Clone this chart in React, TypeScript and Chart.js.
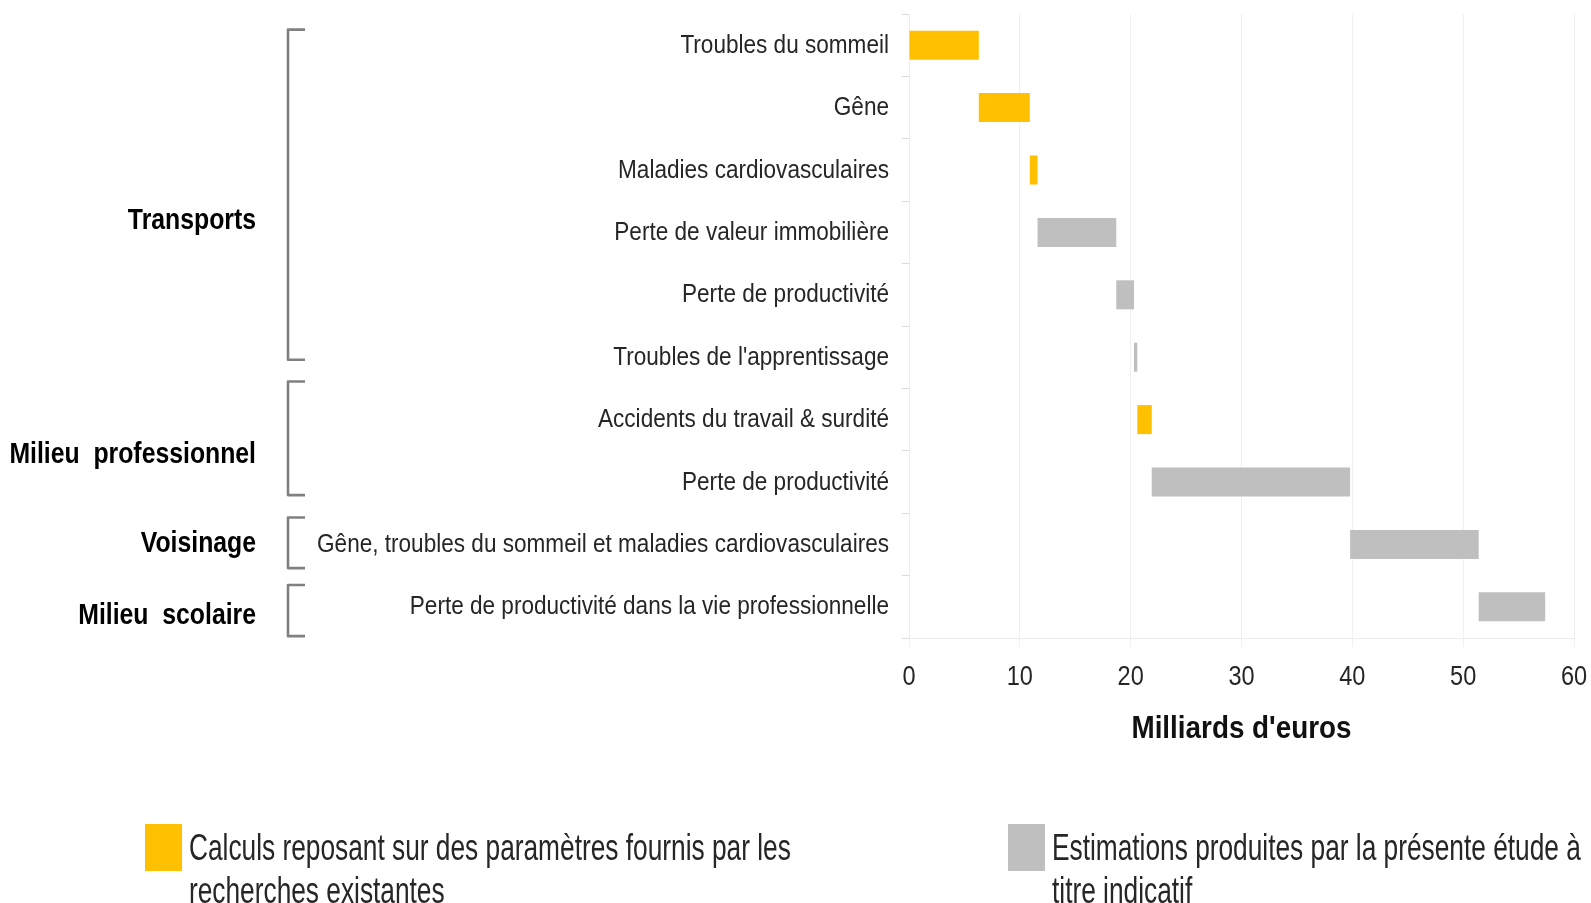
import React, { useEffect, useRef } from 'react';
import { Chart, registerables } from 'chart.js';

Chart.register(...registerables);

// ---- Data ----
const categories = [
  'Troubles du sommeil',
  'Gêne',
  'Maladies cardiovasculaires',
  'Perte de valeur immobilière',
  'Perte de productivité',
  "Troubles de l'apprentissage",
  'Accidents du travail & surdité',
  'Perte de productivité',
  'Gêne, troubles du sommeil et maladies cardiovasculaires',
  'Perte de productivité dans la vie professionnelle',
];
const barStart = [0, 6.3, 10.9, 11.6, 18.7, 20.3, 20.6, 21.9, 39.8, 51.4];
const barEnd = [6.3, 10.9, 11.6, 18.7, 20.3, 20.6, 21.9, 39.8, 51.4, 57.4];
const barSource = ['calc', 'calc', 'calc', 'est', 'est', 'est', 'calc', 'est', 'est', 'est'];

const xMin = 0;
const xMax = 60;
const xStep = 10;
const xTitle = "Milliards d'euros";

const groupNames = ['Transports', 'Milieu  professionnel', 'Voisinage', 'Milieu  scolaire'];
const groupFirst = [0, 6, 8, 9];
const groupLast = [5, 7, 8, 9];

const calcLabel = ['Calculs reposant sur des paramètres fournis par les', 'recherches existantes'];
const estLabel = ['Estimations produites par la présente étude à', 'titre indicatif'];

// ---- Style ----
const YELLOW = '#FFC000';
const GREY = '#BFBFBF';
const SANS = "'Liberation Sans', Arial, sans-serif";
const TEXT = '#262626';
const BRACKET_TOP_PAD = [0.25, 0.61, 0.43, 0.35];
const BRACKET_BOT_PAD = [0.04, 0.21, 0.38, 0.47];
const GROUP_LABEL_ROW = [2.77, 6.52, 7.96, 9.1];

const W = 1591;
const H = 903;

function squeezedText(
  ctx: CanvasRenderingContext2D,
  text: string,
  x: number,
  y: number,
  sx: number,
  align: CanvasTextAlign,
) {
  ctx.save();
  ctx.translate(x, y);
  ctx.scale(sx, 1);
  ctx.textAlign = align;
  ctx.textBaseline = 'alphabetic';
  ctx.fillText(text, 0, 0);
  ctx.restore();
}

const overlayPlugin = {
  id: 'overlay',
  afterDraw(chart: any) {
    const ctx: CanvasRenderingContext2D = chart.ctx;
    const y = chart.scales.y;
    const x = chart.scales.x;
    ctx.save();

    // category labels (y axis)
    ctx.fillStyle = TEXT;
    ctx.font = `25.5px ${SANS}`;
    chart.data.labels.forEach((lab: string, i: number) => {
      squeezedText(ctx, lab, 889, y.getPixelForValue(i) + 7.5, 0.885, 'right');
    });

    // x tick labels
    ctx.font = `28px ${SANS}`;
    x.ticks.forEach((t: any) => {
      squeezedText(ctx, String(t.value), x.getPixelForValue(t.value), 685, 0.84, 'center');
    });

    // x title
    ctx.fillStyle = '#111111';
    ctx.font = `bold 32px ${SANS}`;
    squeezedText(ctx, xTitle, (chart.chartArea.left + chart.chartArea.right) / 2, 738, 0.87, 'center');

    // brackets + group labels
    ctx.strokeStyle = '#808080';
    ctx.lineWidth = 2.6;
    ctx.lineJoin = 'round';
    groupNames.forEach((name, i) => {
      const top = y.getPixelForValue(groupFirst[i] - BRACKET_TOP_PAD[i]);
      const bot = y.getPixelForValue(groupLast[i] + BRACKET_BOT_PAD[i]);
      ctx.beginPath();
      ctx.moveTo(305, top);
      ctx.lineTo(288, top);
      ctx.lineTo(288, bot);
      ctx.lineTo(305, bot);
      ctx.stroke();
      ctx.font = `bold 29px ${SANS}`;
      ctx.fillStyle = '#000000';
      squeezedText(ctx, name, 256, y.getPixelForValue(GROUP_LABEL_ROW[i]) + 10.5, 0.855, 'right');
    });

    // legend
    const items = [
      { color: chart.data.datasets[0].backgroundColor, lines: calcLabel, x: 145, w: 37 },
      { color: chart.data.datasets[1].backgroundColor, lines: estLabel, x: 1008, w: 37 },
    ];
    items.forEach((it) => {
      ctx.fillStyle = it.color;
      ctx.fillRect(it.x, 824, it.w, 47);
      ctx.font = `36px ${SANS}`;
      ctx.fillStyle = TEXT;
      it.lines.forEach((ln: string, k: number) => {
        squeezedText(ctx, ln, it.x + it.w + 7, 860 + k * 43, 0.73, 'left');
      });
    });
    ctx.restore();
  },
};

export default function App() {
  const ref = useRef<HTMLCanvasElement>(null);

  useEffect(() => {
    if (!ref.current) return;
    const calcData = barStart.map((s, i) => (barSource[i] === 'calc' ? [s, barEnd[i]] : null));
    const estData = barStart.map((s, i) => (barSource[i] === 'est' ? [s, barEnd[i]] : null));
    const chart = new Chart(ref.current, {
      type: 'bar',
      data: {
        labels: categories,
        datasets: [
          {
            label: calcLabel.join(' '),
            data: calcData as any,
            backgroundColor: YELLOW,
            barPercentage: 0.465,
            categoryPercentage: 1,
            grouped: false,
          },
          {
            label: estLabel.join(' '),
            data: estData as any,
            backgroundColor: GREY,
            barPercentage: 0.465,
            categoryPercentage: 1,
            grouped: false,
          },
        ],
      },
      options: {
        indexAxis: 'y',
        animation: false,
        responsive: false,
        maintainAspectRatio: false,
        layout: { padding: { left: 0, top: 14, right: 17, bottom: 0 } },
        plugins: {
          legend: { display: false },
          tooltip: { enabled: false },
        },
        scales: {
          x: {
            type: 'linear',
            min: xMin,
            max: xMax,
            ticks: { stepSize: xStep, display: false },
            grid: {
              color: '#f0f0f0',
              lineWidth: 1,
              tickLength: 9,
            },
            border: { color: '#ececec' },
            title: { display: false, text: xTitle },
            afterFit(scale: any) {
              scale.height = 265;
              scale.paddingLeft = 0;
              scale.paddingRight = 0;
            },
          },
          y: {
            type: 'category',
            ticks: { display: false },
            grid: {
              drawOnChartArea: false,
              drawTicks: true,
              tickLength: 7,
              color: '#dcdcdc',
            },
            border: { color: '#ececec' },
            afterFit(scale: any) {
              scale.width = 909;
              scale.paddingTop = 0;
              scale.paddingBottom = 0;
            },
          },
        },
      },
      plugins: [overlayPlugin],
    });
    return () => chart.destroy();
  }, []);

  return (
    <div style={{ position: 'absolute', left: 0, top: 0, width: W, height: H, background: '#ffffff' }}>
      <canvas ref={ref} width={W} height={H} style={{ display: 'block', width: W, height: H }} />
    </div>
  );
}
